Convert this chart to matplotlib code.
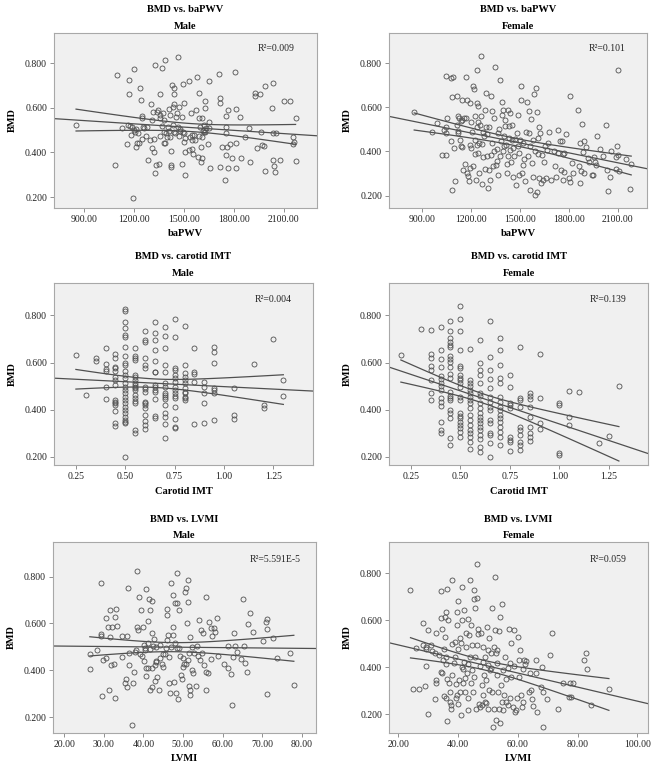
import numpy as np
import matplotlib
matplotlib.use("Agg")
import matplotlib.pyplot as plt
import matplotlib.ticker as ticker

plt.rcParams["font.family"] = ["Liberation Serif", "DejaVu Serif"]

# --- data (x, BMD) ---
male_pwv = [
    (850, 0.523), (1085, 0.342), (1095, 0.748), (1125, 0.508), (1155, 0.437), (1170, 0.662),
    (1170, 0.725), (1165, 0.522), (1175, 0.52), (1185, 0.515), (1180, 0.48), (1200, 0.50),
    (1205, 0.49), (1210, 0.505), (1200, 0.775), (1195, 0.197), (1210, 0.425), (1215, 0.443),
    (1225, 0.488), (1235, 0.69), (1240, 0.635), (1245, 0.553), (1250, 0.563), (1255, 0.515),
    (1260, 0.508), (1245, 0.462), (1232, 0.443), (1270, 0.473), (1280, 0.515), (1285, 0.368),
    (1295, 0.455), (1300, 0.617), (1305, 0.418), (1310, 0.545), (1315, 0.583), (1320, 0.458),
    (1320, 0.403), (1325, 0.79), (1325, 0.308), (1333, 0.345), (1337, 0.583), (1343, 0.59),
    (1347, 0.35), (1353, 0.662), (1355, 0.568), (1357, 0.553), (1357, 0.473), (1365, 0.518),
    (1370, 0.778), (1373, 0.575), (1378, 0.545), (1378, 0.493), (1380, 0.443), (1387, 0.815),
    (1387, 0.44), (1390, 0.485), (1397, 0.47), (1403, 0.515), (1407, 0.593), (1410, 0.495),
    (1417, 0.568), (1417, 0.47), (1420, 0.345), (1420, 0.335), (1420, 0.407), (1427, 0.703),
    (1432, 0.523), (1433, 0.605), (1437, 0.66), (1437, 0.69), (1437, 0.493), (1440, 0.617),
    (1447, 0.485), (1450, 0.56), (1457, 0.575), (1462, 0.827), (1463, 0.515), (1468, 0.605),
    (1468, 0.473), (1474, 0.497), (1478, 0.503), (1488, 0.557), (1488, 0.35), (1492, 0.705),
    (1494, 0.493), (1498, 0.485), (1498, 0.62), (1498, 0.448), (1504, 0.30), (1504, 0.403),
    (1508, 0.463), (1528, 0.718), (1528, 0.41), (1538, 0.47), (1542, 0.575), (1548, 0.478),
    (1548, 0.455), (1550, 0.413), (1554, 0.395), (1558, 0.478), (1564, 0.455), (1574, 0.59),
    (1578, 0.737), (1582, 0.38), (1588, 0.553), (1588, 0.473), (1592, 0.665), (1598, 0.515),
    (1602, 0.425), (1604, 0.355), (1608, 0.373), (1608, 0.553), (1608, 0.47), (1615, 0.497),
    (1618, 0.493), (1622, 0.523), (1625, 0.598), (1625, 0.63), (1628, 0.493), (1635, 0.508),
    (1645, 0.437), (1650, 0.718), (1650, 0.538), (1652, 0.51), (1655, 0.328), (1710, 0.75),
    (1714, 0.335), (1716, 0.645), (1718, 0.623), (1730, 0.425), (1745, 0.275), (1750, 0.563),
    (1750, 0.512), (1750, 0.488), (1754, 0.388), (1760, 0.425), (1765, 0.328), (1765, 0.59),
    (1775, 0.437), (1790, 0.373), (1810, 0.758), (1814, 0.328), (1815, 0.443), (1815, 0.593),
    (1836, 0.56), (1846, 0.375), (1870, 0.47), (1890, 0.508), (1897, 0.357), (1940, 0.418),
    (1960, 0.662), (1965, 0.493), (1970, 0.433), (1980, 0.43), (1985, 0.698), (1990, 0.317),
    (1925, 0.668), (1930, 0.653), (2030, 0.598), (2035, 0.71), (2035, 0.485), (2037, 0.368),
    (2040, 0.34), (2050, 0.313), (2057, 0.485), (2077, 0.368), (2100, 0.628), (2140, 0.63),
    (2158, 0.467), (2158, 0.437), (2162, 0.448), (2172, 0.555), (2172, 0.362),
]

female_pwv = [
    (850, 0.577), (962, 0.486), (988, 0.528), (1019, 0.384), (1048, 0.743), (1048, 0.384),
    (1050, 0.551), (1044, 0.51), (1034, 0.498), (1044, 0.483), (1075, 0.732), (1081, 0.646),
    (1081, 0.227), (1075, 0.449), (1091, 0.735), (1095, 0.415), (1101, 0.265), (1112, 0.652),
    (1116, 0.521), (1120, 0.494), (1122, 0.483), (1122, 0.562), (1126, 0.551), (1132, 0.453),
    (1136, 0.423), (1140, 0.536), (1142, 0.631), (1146, 0.543), (1146, 0.418), (1153, 0.317),
    (1157, 0.551), (1163, 0.343), (1167, 0.737), (1171, 0.551), (1177, 0.634), (1177, 0.302),
    (1183, 0.29), (1188, 0.265), (1192, 0.619), (1192, 0.431), (1194, 0.325), (1198, 0.532),
    (1202, 0.415), (1208, 0.49), (1212, 0.332), (1214, 0.697), (1218, 0.682), (1222, 0.559),
    (1222, 0.453), (1225, 0.39), (1229, 0.272), (1233, 0.431), (1235, 0.51), (1239, 0.77),
    (1239, 0.619), (1243, 0.532), (1243, 0.393), (1245, 0.607), (1249, 0.438), (1249, 0.302),
    (1253, 0.521), (1260, 0.833), (1260, 0.562), (1264, 0.434), (1266, 0.253), (1270, 0.49),
    (1274, 0.373), (1280, 0.468), (1284, 0.589), (1286, 0.32), (1290, 0.509), (1290, 0.664),
    (1297, 0.378), (1300, 0.479), (1305, 0.234), (1311, 0.509), (1311, 0.317), (1315, 0.272),
    (1321, 0.385), (1325, 0.649), (1327, 0.438), (1331, 0.584), (1336, 0.332), (1338, 0.40),
    (1342, 0.551), (1346, 0.78), (1352, 0.34), (1356, 0.355), (1362, 0.411), (1366, 0.483),
    (1368, 0.295), (1372, 0.501), (1377, 0.378), (1379, 0.725), (1383, 0.446), (1387, 0.566),
    (1389, 0.622), (1393, 0.40), (1397, 0.589), (1399, 0.468), (1403, 0.423), (1407, 0.513),
    (1409, 0.544), (1414, 0.431), (1418, 0.343), (1420, 0.302), (1424, 0.381), (1428, 0.586),
    (1430, 0.461), (1434, 0.513), (1438, 0.408), (1440, 0.574), (1445, 0.351), (1449, 0.453),
    (1451, 0.521), (1455, 0.283), (1459, 0.415), (1465, 0.378), (1469, 0.456), (1475, 0.25),
    (1479, 0.483), (1486, 0.566), (1490, 0.423), (1492, 0.295), (1496, 0.393), (1500, 0.453),
    (1506, 0.697), (1508, 0.631), (1512, 0.302), (1516, 0.34), (1521, 0.438), (1527, 0.366),
    (1531, 0.265), (1537, 0.49), (1541, 0.622), (1547, 0.381), (1553, 0.581), (1558, 0.483),
    (1562, 0.227), (1564, 0.423), (1568, 0.547), (1574, 0.347), (1578, 0.284), (1582, 0.45),
    (1588, 0.66), (1593, 0.204), (1595, 0.40), (1599, 0.687), (1603, 0.215), (1605, 0.577),
    (1609, 0.461), (1613, 0.39), (1615, 0.28), (1619, 0.509), (1623, 0.483), (1630, 0.257),
    (1634, 0.385), (1640, 0.272), (1646, 0.351), (1654, 0.423), (1660, 0.28), (1666, 0.408),
    (1674, 0.438), (1681, 0.49), (1691, 0.272), (1707, 0.40), (1716, 0.336), (1722, 0.284),
    (1732, 0.498), (1736, 0.393), (1748, 0.446), (1753, 0.317), (1757, 0.446), (1763, 0.39),
    (1767, 0.272), (1769, 0.305), (1773, 0.393), (1784, 0.48), (1804, 0.28), (1808, 0.26),
    (1810, 0.652), (1821, 0.347), (1825, 0.302), (1860, 0.589), (1866, 0.332), (1870, 0.438),
    (1872, 0.257), (1877, 0.31), (1883, 0.526), (1887, 0.396), (1891, 0.302), (1893, 0.446),
    (1907, 0.42), (1921, 0.37), (1927, 0.352), (1942, 0.295), (1948, 0.295), (1954, 0.373),
    (1962, 0.351), (1969, 0.34), (1973, 0.468), (1993, 0.411), (2010, 0.381), (2030, 0.521),
    (2034, 0.317), (2040, 0.219), (2051, 0.283), (2061, 0.40), (2088, 0.373), (2096, 0.423),
    (2102, 0.385), (2102, 0.77), (2092, 0.32), (2112, 0.31), (2153, 0.366), (2174, 0.23),
    (2184, 0.343),
]

# carotid IMT: x value -> list of BMD values
male_imt = {
    0.25: [0.631],
    0.30: [0.462],
    0.35: [0.618, 0.607],
    0.40: [0.661, 0.594, 0.573, 0.566, 0.498, 0.445],
    0.45: [0.636, 0.618, 0.583, 0.576, 0.566, 0.54, 0.526, 0.505, 0.441, 0.434, 0.427, 0.42,
           0.396, 0.342, 0.331],
    0.50: [0.827, 0.817, 0.774, 0.746, 0.718, 0.708, 0.665, 0.628, 0.597, 0.59, 0.566, 0.548,
           0.533, 0.512, 0.498, 0.484, 0.47, 0.455, 0.441, 0.427, 0.413, 0.399, 0.385, 0.37,
           0.356, 0.349, 0.342, 0.20],
    0.55: [0.661, 0.628, 0.618, 0.611, 0.548, 0.54, 0.526, 0.515, 0.505, 0.498, 0.491, 0.484,
           0.462, 0.448, 0.438, 0.43, 0.314, 0.302],
    0.60: [0.736, 0.694, 0.689, 0.618, 0.59, 0.576, 0.498, 0.487, 0.477, 0.434, 0.427, 0.42,
           0.406, 0.377, 0.353, 0.335, 0.32],
    0.65: [0.774, 0.725, 0.696, 0.654, 0.607, 0.562, 0.558, 0.505, 0.495, 0.484, 0.477, 0.444,
           0.373, 0.363],
    0.70: [0.75, 0.713, 0.661, 0.59, 0.562, 0.515, 0.498, 0.472, 0.462, 0.455, 0.444, 0.42,
           0.385, 0.37, 0.339, 0.278],
    0.75: [0.784, 0.708, 0.576, 0.569, 0.548, 0.533, 0.519, 0.498, 0.484, 0.472, 0.458, 0.451,
           0.413, 0.359, 0.328, 0.321],
    0.80: [0.756, 0.59, 0.555, 0.54, 0.524, 0.512, 0.491, 0.477, 0.47, 0.455, 0.448, 0.441],
    0.85: [0.661, 0.562, 0.552, 0.519, 0.339],
    0.90: [0.519, 0.498, 0.47, 0.43, 0.345],
    0.95: [0.668, 0.643, 0.60, 0.491, 0.484, 0.47, 0.356],
    1.05: [0.491, 0.377, 0.359],
    1.15: [0.594],
    1.20: [0.42, 0.406],
    1.25: [0.699],
    1.30: [0.526, 0.458],
}

female_imt = {
    0.20: [0.633],
    0.30: [0.742],
    0.35: [0.739, 0.637, 0.618, 0.586, 0.569, 0.526, 0.472, 0.441],
    0.40: [0.749, 0.654, 0.614, 0.58, 0.543, 0.529, 0.515, 0.501, 0.484, 0.448, 0.434, 0.416,
           0.349, 0.314, 0.30],
    0.45: [0.777, 0.736, 0.704, 0.689, 0.675, 0.665, 0.626, 0.614, 0.604, 0.583, 0.552, 0.533,
           0.477, 0.458, 0.448, 0.441, 0.399, 0.385, 0.363, 0.278, 0.25],
    0.50: [0.841, 0.784, 0.732, 0.654, 0.586, 0.576, 0.548, 0.533, 0.524, 0.512, 0.498, 0.455,
           0.441, 0.385, 0.373, 0.363, 0.349, 0.335, 0.321, 0.307, 0.285],
    0.55: [0.657, 0.526, 0.515, 0.501, 0.484, 0.47, 0.455, 0.441, 0.427, 0.406, 0.377, 0.356,
           0.335, 0.314, 0.30, 0.282, 0.264, 0.231],
    0.60: [0.694, 0.597, 0.569, 0.548, 0.512, 0.472, 0.458, 0.43, 0.406, 0.387, 0.37, 0.356,
           0.342, 0.328, 0.314, 0.292, 0.274, 0.243, 0.221],
    0.65: [0.777, 0.623, 0.569, 0.529, 0.491, 0.455, 0.434, 0.413, 0.399, 0.356, 0.342, 0.30,
           0.292, 0.26, 0.197],
    0.70: [0.704, 0.654, 0.59, 0.533, 0.512, 0.455, 0.434, 0.413, 0.399, 0.377, 0.363, 0.349,
           0.328, 0.307, 0.285, 0.25],
    0.75: [0.548, 0.495, 0.427, 0.42, 0.406, 0.285, 0.271, 0.264, 0.224],
    0.80: [0.668, 0.448, 0.441, 0.413, 0.328, 0.314, 0.292, 0.264, 0.25, 0.229],
    0.85: [0.472, 0.458, 0.444, 0.413, 0.37, 0.328, 0.302, 0.285, 0.268],
    0.90: [0.636, 0.448, 0.342, 0.317],
    1.00: [0.43, 0.42, 0.214, 0.207],
    1.05: [0.481, 0.368, 0.335],
    1.10: [0.477],
    1.20: [0.26],
    1.25: [0.288],
    1.30: [0.501],
}

male_lvmi = [
    (26.5, 0.468), (26.5, 0.407), (28.4, 0.486), (29.4, 0.774), (29.3, 0.555), (29.4, 0.546),
    (29.6, 0.29), (29.9, 0.444), (30.5, 0.451), (30.5, 0.622), (31.1, 0.586), (31.4, 0.315),
    (31.5, 0.657), (31.5, 0.543), (31.8, 0.422), (32.1, 0.586), (32.6, 0.427), (32.8, 0.626),
    (32.8, 0.284), (33.1, 0.66), (33.4, 0.59), (34.7, 0.458), (34.7, 0.546), (35.5, 0.347),
    (35.6, 0.361), (35.8, 0.33), (36.0, 0.546), (36.2, 0.75), (36.3, 0.422), (36.4, 0.472),
    (37.2, 0.166), (37.4, 0.344), (37.6, 0.394), (37.9, 0.479), (38.1, 0.486), (38.3, 0.586),
    (38.3, 0.824), (38.7, 0.572), (39.0, 0.712), (39.1, 0.469), (39.5, 0.657), (39.7, 0.461),
    (39.9, 0.583), (40.1, 0.441), (40.2, 0.508), (40.4, 0.494), (40.4, 0.486), (40.6, 0.375),
    (40.6, 0.746), (40.8, 0.408), (41.1, 0.515), (41.1, 0.61), (41.2, 0.408), (41.4, 0.703),
    (41.7, 0.657), (41.7, 0.318), (41.8, 0.489), (42.1, 0.408), (42.2, 0.697), (42.2, 0.561),
    (42.3, 0.33), (42.5, 0.504), (42.7, 0.532), (42.9, 0.422), (42.9, 0.355), (43.1, 0.437),
    (43.3, 0.501), (43.3, 0.441), (43.5, 0.372), (43.9, 0.315), (44.2, 0.451), (44.3, 0.508),
    (44.6, 0.427), (44.9, 0.469), (45.0, 0.415), (45.4, 0.469), (45.7, 0.494), (45.9, 0.529),
    (46.1, 0.66), (46.1, 0.636), (46.3, 0.551), (46.5, 0.458), (46.5, 0.347), (46.7, 0.304),
    (47.0, 0.772), (47.1, 0.501), (47.4, 0.586), (47.5, 0.722), (47.5, 0.551), (47.7, 0.351),
    (48.0, 0.689), (48.1, 0.515), (48.2, 0.304), (48.4, 0.814), (48.4, 0.686), (48.6, 0.494),
    (48.8, 0.276), (49.0, 0.657), (49.1, 0.496), (49.2, 0.462), (49.5, 0.38), (49.7, 0.361),
    (49.9, 0.451), (50.1, 0.415), (50.3, 0.427), (50.5, 0.736), (50.8, 0.427), (50.9, 0.753),
    (51.1, 0.60), (51.2, 0.444), (51.3, 0.786), (51.3, 0.693), (51.5, 0.472), (51.5, 0.333),
    (51.8, 0.315), (51.9, 0.543), (51.9, 0.294), (52.2, 0.401), (52.4, 0.498), (52.6, 0.387),
    (52.9, 0.472), (53.4, 0.333), (53.6, 0.504), (53.9, 0.461), (54.1, 0.615), (54.3, 0.444),
    (54.5, 0.572), (54.9, 0.475), (55.1, 0.558), (55.4, 0.422), (55.7, 0.394), (55.9, 0.712),
    (55.9, 0.315), (56.4, 0.387), (56.6, 0.608), (57.0, 0.579), (57.2, 0.447), (57.4, 0.546),
    (57.8, 0.579), (58.1, 0.565), (58.5, 0.622), (58.9, 0.461), (60.4, 0.427), (61.3, 0.504),
    (61.5, 0.412), (62.1, 0.384), (62.5, 0.254), (62.7, 0.458), (63.0, 0.558), (63.1, 0.504),
    (63.7, 0.479), (64.6, 0.447), (65.2, 0.703), (65.4, 0.504), (65.7, 0.432), (66.1, 0.394),
    (66.5, 0.598), (66.9, 0.646), (67.6, 0.565), (70.1, 0.526), (70.9, 0.608), (71.1, 0.618),
    (71.3, 0.576), (71.1, 0.301), (72.7, 0.536), (73.8, 0.454), (77.0, 0.472), (78.0, 0.337),
]

female_lvmi = [
    (24.1, 0.729), (25.0, 0.305), (26.0, 0.48), (26.9, 0.307), (28.3, 0.587), (28.3, 0.494),
    (29.2, 0.487), (29.2, 0.476), (29.4, 0.405), (28.9, 0.319), (30.0, 0.20), (30.1, 0.558),
    (30.9, 0.494), (31.4, 0.469), (32.3, 0.459), (32.5, 0.544), (32.5, 0.345), (32.8, 0.331),
    (32.3, 0.263), (33.6, 0.452), (34.2, 0.722), (34.2, 0.608), (34.2, 0.38), (34.5, 0.373),
    (34.8, 0.561), (35.0, 0.43), (35.3, 0.476), (35.3, 0.277), (35.7, 0.615), (35.7, 0.527),
    (35.9, 0.445), (35.9, 0.413), (36.1, 0.636), (36.1, 0.267), (36.2, 0.171), (36.4, 0.732),
    (36.4, 0.348), (36.7, 0.601), (37.0, 0.331), (37.2, 0.295), (37.3, 0.253), (37.5, 0.238),
    (37.8, 0.22), (37.9, 0.769), (37.9, 0.366), (38.1, 0.499), (38.7, 0.416), (38.9, 0.508),
    (39.0, 0.445), (39.2, 0.328), (39.2, 0.267), (39.5, 0.636), (39.6, 0.58), (39.8, 0.281),
    (40.0, 0.476), (40.1, 0.683), (40.1, 0.245), (40.4, 0.345), (40.6, 0.523), (40.7, 0.295),
    (40.9, 0.196), (41.1, 0.501), (41.3, 0.402), (41.5, 0.739), (41.5, 0.601), (41.7, 0.39),
    (41.8, 0.331), (42.0, 0.644), (42.0, 0.423), (42.3, 0.295), (42.4, 0.352), (42.6, 0.544),
    (42.8, 0.487), (42.9, 0.373), (43.2, 0.604), (43.2, 0.267), (43.4, 0.413), (43.5, 0.217),
    (43.7, 0.537), (43.9, 0.769), (43.9, 0.445), (44.2, 0.331), (44.5, 0.58), (44.6, 0.388),
    (44.8, 0.494), (45.1, 0.295), (45.2, 0.359), (45.4, 0.726), (45.4, 0.689), (45.6, 0.651),
    (45.7, 0.445), (45.9, 0.224), (46.2, 0.693), (46.3, 0.84), (46.5, 0.494), (46.7, 0.561),
    (46.7, 0.541), (47.1, 0.245), (47.3, 0.405), (47.4, 0.231), (47.6, 0.547), (47.9, 0.324),
    (48.0, 0.238), (48.2, 0.423), (48.4, 0.487), (48.5, 0.281), (48.7, 0.366), (49.0, 0.253),
    (49.1, 0.445), (49.3, 0.345), (49.5, 0.248), (49.6, 0.57), (49.9, 0.409), (50.1, 0.22),
    (50.2, 0.473), (50.4, 0.523), (50.4, 0.302), (50.6, 0.388), (51.0, 0.395), (51.2, 0.459),
    (51.3, 0.295), (51.5, 0.651), (51.8, 0.146), (51.9, 0.22), (52.1, 0.487), (52.3, 0.782),
    (52.4, 0.558), (52.7, 0.177), (52.7, 0.459), (52.9, 0.416), (53.0, 0.366), (53.2, 0.473),
    (53.4, 0.295), (53.8, 0.555), (53.8, 0.22), (54.0, 0.163), (54.1, 0.615), (54.3, 0.324),
    (54.6, 0.669), (54.7, 0.253), (54.9, 0.217), (55.1, 0.388), (55.5, 0.281), (55.8, 0.445),
    (56.0, 0.348), (56.2, 0.253), (56.6, 0.238), (56.9, 0.395), (57.1, 0.561), (57.4, 0.419),
    (57.5, 0.267), (57.7, 0.501), (57.9, 0.359), (58.3, 0.231), (58.6, 0.558), (58.8, 0.405),
    (59.1, 0.21), (59.4, 0.217), (59.7, 0.267), (60.2, 0.53), (60.3, 0.43), (60.5, 0.359),
    (60.8, 0.473), (61.1, 0.281), (61.3, 0.231), (61.6, 0.253), (61.8, 0.39), (62.2, 0.43),
    (62.4, 0.413), (62.7, 0.427), (63.6, 0.295), (64.1, 0.373), (64.4, 0.302), (64.7, 0.263),
    (65.2, 0.234), (66.1, 0.373), (66.1, 0.43), (66.6, 0.21), (67.8, 0.317), (68.1, 0.402),
    (68.3, 0.295), (68.5, 0.147), (69.7, 0.263), (70.8, 0.452), (71.5, 0.544), (73.4, 0.224),
    (75.0, 0.331), (77.3, 0.274), (77.8, 0.274), (77.6, 0.331), (78.6, 0.331), (82.3, 0.43),
    (82.9, 0.459), (83.2, 0.39), (84.5, 0.241), (90.5, 0.305),
]

r2_labels = ["R\u00b2=0.009", "R\u00b2=0.101", "R\u00b2=0.004", "R\u00b2=0.139",
             "R\u00b2=5.591E-5", "R\u00b2=0.059"]
titles = ["BMD vs. baPWV", "BMD vs. baPWV", "BMD vs. carotid IMT", "BMD vs. carotid IMT",
          "BMD vs. LVMI", "BMD vs. LVMI"]
sexes = ["Male", "Female", "Male", "Female", "Male", "Female"]
xlabels = ["baPWV", "baPWV", "Carotid IMT", "Carotid IMT", "LVMI", "LVMI"]


def pairs(p):
    a = np.array(p, dtype=float)
    return a[:, 0], a[:, 1]


def grouped(d):
    xs, ys = [], []
    for k, v in d.items():
        xs += [k] * len(v)
        ys += v
    return np.array(xs), np.array(ys)


datasets = [pairs(male_pwv), pairs(female_pwv), grouped(male_imt), grouped(female_imt),
            pairs(male_lvmi), pairs(female_lvmi)]

# axes boxes [left, bottom, width, height] in figure fraction
boxes = [
    [0.0828, 0.7313, 0.4034, 0.2261], [0.5966, 0.7313, 0.3957, 0.2261],
    [0.0828, 0.3992, 0.3972, 0.2352], [0.5966, 0.3992, 0.3973, 0.2352],
    [0.0813, 0.0530, 0.4034, 0.2467], [0.5966, 0.0530, 0.3973, 0.2467],
]
xlims = [(717, 2301), (695, 2281), (0.139, 1.45), (0.14, 1.447), (17.2, 83.6), (16.9, 103.6)]
ylims = [(0.151, 0.935), (0.144, 0.936), (0.165, 0.938), (0.165, 0.938), (0.133, 0.947), (0.12, 0.932)]
xticks = [np.arange(900, 2101, 300), np.arange(900, 2101, 300),
          np.arange(0.25, 1.26, 0.25), np.arange(0.25, 1.26, 0.25),
          np.arange(20, 81, 10), np.arange(20, 101, 20)]
xfmts = ["%.2f", "%.2f", "%.2f", "%.2f", "%.2f", "%.2f"]
title_off = [23, 23, 26, 26, 23, 23]  # px above axes top
sub_off = [6, 6, 9, 9, 7, 7]

line_c = "#505050"
fig = plt.figure(figsize=(6.52, 7.74), dpi=100)

for i in range(6):
    x, y = datasets[i]
    ax = fig.add_axes(boxes[i])
    ax.set_facecolor("#f0f0f0")
    for s in ax.spines.values():
        s.set_color("#a8a8a8")
        s.set_linewidth(0.8)

    ax.plot(x, y, linestyle="none", marker="o", markersize=3.6, markerfacecolor="none",
            markeredgecolor="#505050", markeredgewidth=0.6, zorder=3)

    # linear fit with 95% CI of the mean
    n = len(x)
    b, a = np.polyfit(x, y, 1)
    resid = y - (a + b * x)
    s_err = np.sqrt(np.sum(resid ** 2) / (n - 2))
    sxx = np.sum((x - x.mean()) ** 2)
    xf = np.linspace(xlims[i][0], xlims[i][1], 50)
    ax.plot(xf, a + b * xf, color=line_c, lw=0.9, zorder=2)
    xc = np.linspace(x.min(), x.max(), 50)
    half = 1.97 * s_err * np.sqrt(1.0 / n + (xc - x.mean()) ** 2 / sxx)
    ax.plot(xc, a + b * xc + half, color=line_c, lw=0.9, zorder=2)
    ax.plot(xc, a + b * xc - half, color=line_c, lw=0.9, zorder=2)

    ax.set_xlim(*xlims[i])
    ax.set_ylim(*ylims[i])
    ax.set_xticks(xticks[i])
    ax.set_yticks([0.2, 0.4, 0.6, 0.8])
    ax.xaxis.set_major_formatter(ticker.FormatStrFormatter(xfmts[i]))
    ax.yaxis.set_major_formatter(ticker.FormatStrFormatter("%.3f"))
    ax.tick_params(axis="both", length=3, width=0.7, color="#909090", labelsize=7,
                   pad=2, labelcolor="#222222")

    ax.set_xlabel(xlabels[i], fontsize=7.5, fontweight="bold", labelpad=4)
    ax.set_ylabel("BMD", fontsize=7.5, fontweight="bold", labelpad=6)

    ax.text(0.845, 0.91, r2_labels[i], transform=ax.transAxes, ha="center", va="center",
            fontsize=7, color="#222222")
    ax.annotate(titles[i], xy=(0.5, 1), xycoords="axes fraction",
                xytext=(0, title_off[i] * 0.72), textcoords="offset points",
                ha="center", va="center", fontsize=7.5, fontweight="bold")
    ax.annotate(sexes[i], xy=(0.5, 1), xycoords="axes fraction",
                xytext=(0, sub_off[i] * 0.72), textcoords="offset points",
                ha="center", va="center", fontsize=7.5, fontweight="bold")

fig.savefig("out.png", dpi=100)
